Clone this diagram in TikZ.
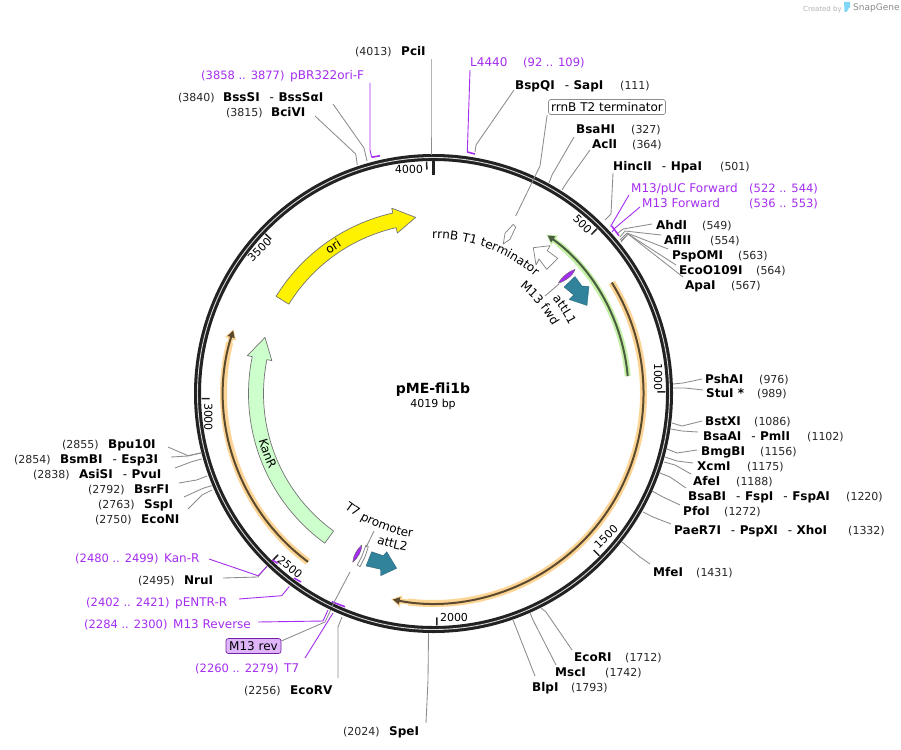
\documentclass[tikz,border=0pt]{standalone}
\usepackage{fontspec}
\setmainfont{DejaVu Sans}
\usetikzlibrary{arrows.meta,decorations.text}
\definecolor{prim}{HTML}{A52DF0}
\definecolor{ringc}{HTML}{222222}
\definecolor{leadc}{HTML}{8C8C8C}
\definecolor{teal2}{HTML}{31839C}
\definecolor{orng}{HTML}{FCD596}
\definecolor{orngcore}{HTML}{5C4A2E}
\definecolor{grn}{HTML}{C4F0A6}
\definecolor{grncore}{HTML}{4A5C40}
\definecolor{kan}{HTML}{CCFFCC}
\tikzset{
  base/.style={inner sep=0pt,anchor=west,text height=8.5pt,text depth=0pt},
  enzname/.style={base,font=\fontsize{12}{14}\selectfont\bfseries,text=black},
  enznum/.style={base,font=\fontsize{11}{13}\selectfont,text=black!85},
  primname/.style={base,font=\fontsize{12}{14}\selectfont,text=prim},
  primnum/.style={base,font=\fontsize{11.5}{13}\selectfont,text=prim},
  lead/.style={draw=leadc,line width=0.85pt},
  primlead/.style={draw=prim,line width=0.9pt},
  bracket/.style={draw=prim,line width=1.6pt},
  tick/.style={draw=ringc,line width=1.5pt},
  ticktext/.style={font=\fontsize{11}{13}\selectfont,text=black,inner sep=0pt},
  genearrow/.style={draw=black!55,line width=0.7pt},
  outline/.style={draw=black!50,fill=white,line width=0.7pt},
  attarrow/.style={fill=teal2,draw=teal2!70!black,line width=0.3pt},
  spindle/.style={fill=prim,draw=black!60,line width=0.4pt},
  labelbox/.style={inner sep=0pt,font=\fontsize{12}{14}\selectfont,text=black,rounded corners=2.5pt,line width=0.7pt},
  curved/.style={decorate,decoration={text along path,text align=left,text={|\fontsize{12}{14}\selectfont|#1}}}
}
\newcommand\enz[6]{\node[enzname] (#1) at (#2,#3) {#4};\node[enznum] (#1n) at (#5,#3) {#6};}
\newcommand\prm[6]{\node[primname] (#1) at (#2,#3) {#4};\node[primnum] (#1n) at (#5,#3) {#6};}
\newcommand\hy{\hspace{10pt}{\mdseries-}\hspace{4.5pt}}
\newcommand\leader[6][lead]{\coordinate (#2-k) at (#5);\coordinate (#2-e) at (#6);\draw[#1] ([shift={(#4)}]#2.#3) -- (#2-k) -- (#2-e);}
\begin{document}
\begin{tikzpicture}[x=1pt,y=-1pt,line join=round,declare function={ba(\p)=\p/4019*360-90;}]
\useasboundingbox (0,0) rectangle (901,749);
\fill[white] (0,0) rectangle (901,749);

% ring
\node[circle,inner sep=0pt,minimum size=472pt,draw=ringc,line width=7pt] (ring) at (433.5,393.5) {};
\node[circle,inner sep=0pt,minimum size=472pt,draw=white!85!black,line width=0.9pt] (ringw) at (433.5,393.5) {};

\begin{scope}[shift={(433.5,393.5)}]
  % ticks
  \draw[draw=ringc,line width=3pt] (-90:233) -- (-90:219);
  \foreach \p in {500,1000,1500,2000,2500,3000,3500,4000}
    \draw[tick] ({ba(\p)}:232) -- ({ba(\p)}:224);
  % highlighted features
  \draw[orng,line width=7pt] (-31.9:210) arc (-31.9:97:210);
  \draw[orng,-{Stealth[length=10pt,width=11pt,inset=0pt]},line width=5pt] (97:210) arc (97:101.6:210);
  \draw[orngcore,line width=2pt,-{Stealth[length=7pt,width=7pt,inset=0pt]}] (-31.9:210) arc (-31.9:101.2:210);
  \draw[orng,line width=7pt] (126.7:210) arc (126.7:194:210);
  \draw[orng,-{Stealth[length=10pt,width=11pt,inset=0pt]},line width=5pt] (194:210) arc (194:197.8:210);
  \draw[orngcore,line width=2pt,-{Stealth[length=7pt,width=7pt,inset=0pt]}] (126.7:210) arc (126.7:197.5:210);
  \draw[grn,line width=6pt] (-5.1:195) arc (-5.1:-50:195);
  \draw[grn,-{Stealth[length=10pt,width=11pt,inset=0pt]},line width=5pt] (-50:195) arc (-50:-54.6:195);
  \draw[grncore,line width=2pt,-{Stealth[length=7pt,width=7pt,inset=0pt]}] (-5.1:195) arc (-5.1:-54.2:195);
  % gene arrows
  \draw[genearrow,fill=yellow] (211.7:170) arc (211.7:257.3:170) -- (257.3:164.5) -- (264.2:177) -- (257.3:190) -- (257.3:185) arc (257.3:211.7:185) -- cycle;
  \draw[genearrow,fill=kan] (126:170) arc (126:191.5:170) -- (191.5:165) -- (198.4:177.6) -- (191.5:190) -- (191.5:185) arc (191.5:126:185) -- cycle;
  % curved feature labels
  \path[curved={ori}] (233:173.5) arc (233:250:173.5);
  \path[curved={KanR}] (165:181) arc (165:145:181);
  \path[curved={T7 promoter}] (127.8:145.5) arc (127.8:85:145.5);
  \path[curved={attL2}] (110.8:160) arc (110.8:85:160);
  \path[curved={rrnB T1 terminator}] (-90.5:155) arc (-90.5:-35:155);
  \path[curved={M13 fwd}] (-51:137) arc (-51:-15:137);
  \path[curved={attL1}] (-38.5:152) arc (-38.5:-10:152);
\end{scope}

% small features
\draw[attarrow] (564,287) -- (575,276.5) -- (582,286) -- (589,286.5) -- (587,305.5) -- (569,299.5) -- (573.7,295) -- cycle;
\draw[attarrow] (366,566) -- (371.7,551.7) -- (383.3,555.7) -- (386.7,551.7) -- (396.7,568.3) -- (380.7,575.7) -- (380.7,569.3) -- cycle;
\draw[outline] (533.3,247.7) -- (550,245.7) -- (547.3,250.7) -- (557.7,258.3) -- (546.7,269.3) -- (539,259) -- (536,265) -- cycle;
\draw[outline] (503.3,244) -- (505,233.3) -- (513.3,224.3) -- (515.7,227.3) -- (510,239.3) -- (505,242.7) -- cycle;
\draw[outline] (366,545) -- (368.3,546.7) -- (365,556.7) -- (360,566.7) -- (357.3,565) -- (362,556) -- cycle;
\draw[spindle] (558.3,283.3) .. controls (562,276) and (570,271) .. (575,269.3) .. controls (573,276) and (565,281) .. (558.3,283.3) -- cycle;
\draw[spindle] (352.7,562.3) .. controls (353,556) and (357,549) .. (361.7,545) .. controls (362,551) and (358,558) .. (352.7,562.3) -- cycle;

% primer brackets on the ring
\draw[bracket] (467.3,152) -- (475,154);
\draw[bracket] (371.7,157.3) -- (380,155.7);
\draw[bracket] (611.7,226) -- (619,235.7);
\draw[bracket] (272.3,560) -- (277.7,563.3);
\draw[bracket] (294,578) -- (301,582);
\draw[bracket] (331.7,601.7) -- (345,606.7);

% tick labels
\node[ticktext,rotate=2] (t4000) at (409,169.5) {4000};
\node[ticktext,rotate=-45] (t500) at (582.5,224.5) {500};
\node[ticktext,rotate=-90] (t1000) at (658,377) {1000};
\node[ticktext,rotate=45] (t1500) at (606,537) {1500};
\node[ticktext] (t2000) at (454,617) {2000};
\node[ticktext,rotate=-40] (t2500) at (290,567) {2500};
\node[ticktext,rotate=-90] (t3000) at (208.5,417) {3000};
\node[ticktext,rotate=45] (t3500) at (259.5,249.5) {3500};

% centre
\node[font=\fontsize{14}{16}\selectfont\bfseries,inner sep=0pt] (title) at (433,390) {pME-fli1b};
\node[font=\fontsize{11}{13}\selectfont,inner sep=0pt] (size) at (433,404.5) {4019 bp};

% enzyme labels
\enz{pci}{401}{51}{PciI}{355}{(4013)}
\enz{bss}{223}{97}{BssSI\hy BssSαI}{178}{(3840)}
\enz{bci}{271}{112}{BciVI}{226}{(3815)}
\enz{bsp}{515}{85}{BspQI\hy SapI}{620}{(111)}
\enz{bsh}{576}{129}{BsaHI}{631}{(327)}
\enz{acl}{592}{144}{AclI}{632}{(364)}
\enz{hin}{613}{166}{HincII\hy HpaI}{720}{(501)}
\enz{ahd}{656}{225}{AhdI}{702}{(549)}
\enz{afl}{664}{240}{AflII}{710}{(554)}
\enz{psp}{672}{255}{PspOMI}{738}{(563)}
\enz{eco}{679}{270}{EcoO109I}{756}{(564)}
\enz{apa}{685}{285}{ApaI}{731}{(567)}
\enz{psh}{705}{379}{PshAI}{759}{(976)}
\enz{stu}{706}{393}{StuI *}{757}{(989)}
\enz{bst}{705}{421}{BstXI}{754}{(1086)}
\enz{baa}{703}{436}{BsaAI\hy PmlI}{807}{(1102)}
\enz{bmg}{701}{451}{BmgBI}{760}{(1156)}
\enz{xcm}{697}{466}{XcmI}{747}{(1175)}
\enz{afe}{693}{481}{AfeI}{736}{(1188)}
\enz{bab}{688}{496}{BsaBI\hy FspI\hy FspAI}{846}{(1220)}
\enz{pfo}{683}{511}{PfoI}{724}{(1272)}
\enz{pae}{674}{530}{PaeR7I\hy PspXI\hy XhoI}{848}{(1332)}
\enz{mfe}{653}{572}{MfeI}{696}{(1431)}
\enz{eri}{574}{657}{EcoRI}{625}{(1712)}
\enz{msc}{555}{672}{MscI}{605}{(1742)}
\enz{blp}{532}{687}{BlpI}{571}{(1793)}
\enz{spe}{389}{731}{SpeI}{343}{(2024)}
\enz{erv}{290}{690}{EcoRV}{244}{(2256)}
\enz{nru}{184}{580}{NruI}{138}{(2495)}
\enz{ecn}{141}{519}{EcoNI}{95}{(2750)}
\enz{ssp}{144}{504}{SspI}{98}{(2763)}
\enz{bsr}{134}{489}{BsrFI}{88}{(2792)}
\enz{asi}{79}{474}{AsiSI\hy PvuI}{33}{(2838)}
\enz{bsm}{60}{459}{BsmBI\hy Esp3I}{14}{(2854)}
\enz{bpu}{108}{444}{Bpu10I}{62}{(2855)}

% primer labels
\prm{pbr}{290}{75}{pBR322ori-F}{201}{(3858 .. 3877)}
\prm{l44}{470}{62}{L4440}{523}{(92 .. 109)}
\prm{puc}{631}{188}{M13/pUC Forward}{749}{(522 .. 544)}
\prm{mfw}{642}{203}{M13 Forward}{749}{(536 .. 553)}
\prm{tse}{284}{668}{T7}{195}{(2260 .. 2279)}
\prm{mrv}{173}{624}{M13 Reverse}{84}{(2284 .. 2300)}
\prm{pen}{175}{602}{pENTR-R}{86}{(2402 .. 2421)}
\prm{knr}{164}{558}{Kan-R}{75}{(2480 .. 2499)}

% boxed labels
\node[labelbox,draw=black!45,fill=white,minimum width=117pt,minimum height=15pt] (t2box) at (607,107) {rrnB T2 terminator};
\node[labelbox,draw=prim!70!black,fill=prim!35,minimum width=55pt,minimum height=15pt] (revbox) at (253.5,646) {M13 rev};

% leaders
\leader{pci}{west}{30,8}{431,120}{431,155}
\leader{bss}{west}{110,7}{364,148}{367,161}
\leader{bci}{west}{44,4}{355.7,154}{357.3,165}
\leader{bsp}{west}{-1,5}{476,145}{475,152}
\leader{t2box}{south west}{-1,0}{540,166}{515.7,216}
\leader{bsh}{west}{-2,8}{552,175}{549,183}
\leader{acl}{west}{-2,6}{567,182}{562,190}
\leader{hin}{west}{0,7}{611,214}{605,220}
\leader{ahd}{west}{-4,-1}{623,229}{618,233}
\leader{afl}{west}{-3,-5}{625,231}{620,237}
\leader{psp}{west}{-4,-6}{627,233}{620,240}
\leader{eco}{west}{-3,-5}{628,234}{621,241}
\leader{apa}{west}{-2,-8}{628,234}{621,242}
\leader{psh}{west}{-3,0}{683,383}{673,384}
\leader{stu}{west}{-3,-3}{685,388}{673,388}
\leader{bst}{west}{-3,0}{682,426}{672,423}
\leader{baa}{west}{-5,-4}{682,431}{671,429}
\leader{bmg}{west}{-4,-1}{677,453}{667,449}
\leader{xcm}{west}{-4,-3}{677,461}{665,457}
\leader{afe}{west}{-2,-7}{675,465}{664,462}
\leader{bab}{west}{-2,-8}{670,477}{660,473}
\leader{pfo}{west}{-3,-6}{663,497}{652,491}
\leader{pae}{west}{-3,-6}{653,517}{643,512}
\leader{mfe}{west}{-3,-8}{640,557}{622,542}
\leader{eri}{west}{-2,-7}{546,612}{541,608}
\leader{msc}{west}{1,-7}{533,620}{530,613}
\leader{blp}{west}{3,-11}{515,625}{513,620}
\leader{spe}{west}{37,-8}{428,680}{428.5,633}
\leader{erv}{west}{48,-12}{338,627}{342,617}
\leader{nru}{west}{39,-2}{258,577}{267,566}
\leader{ecn}{west}{47,-10}{202,495}{212,490}
\leader{ssp}{west}{40,-7}{203,488.3}{211.7,485.7}
\leader{bsr}{west}{45,-6}{196.7,480}{207,476}
\leader{asi}{west}{96,-6}{191.7,461.7}{201.7,459}
\leader{bsm}{west}{111,-2}{188,456}{201,453}
\leader{bpu}{west}{60,3}{188,455.7}{201.7,452.7}
\leader{revbox}{east}{0,-5}{325,622}{330.7,610}
\leader[primlead]{pbr}{west}{80,8}{370,150}{371.7,157.3}
\leader[primlead]{l44}{west}{0,8}{467.3,152}{467.3,152}
\leader[primlead]{puc}{west}{-2,7}{610.5,226.5}{610.5,226.5}
\leader[primlead]{mfw}{west}{-2,4}{615,228}{612,232}
\leader[primlead]{tse}{west}{21,-10}{333,613}{333,613}
\leader[primlead]{mrv}{west}{85,-2}{323,621}{328,610}
\leader[primlead]{pen}{west}{64,-3}{281.7,595.7}{289.3,586.5}
\leader[primlead]{knr}{west}{45,1}{258,575.7}{267,566.5}

% leaders of the inner features
\coordinate (t7start) at (374,531);
\coordinate (t7end) at (366,547.5);
\coordinate (fwdstart) at (545,296);
\coordinate (fwdend) at (559,284);
\coordinate (revin) at (350,572);
\coordinate (revout) at (331.7,606.7);
\draw[lead] (t7start) -- (t7end);
\draw[lead] (fwdstart) -- (fwdend);
\draw[lead] (revin) -- (revout);

% logo
\node[base,font=\fontsize{7}{8}\selectfont,text=black!30] (created) at (803,7.5) {Created by};
\node[base,font=\fontsize{9}{10}\selectfont,text=black!45,text height=6pt] (snap) at (853,7.5) {SnapGene};
\fill[cyan!50!white] (844,2) -- (850,2) -- (850,7) .. controls (849,8) and (848,9) .. (846.5,12) -- (844.5,12) -- cycle;
\end{tikzpicture}
\end{document}
